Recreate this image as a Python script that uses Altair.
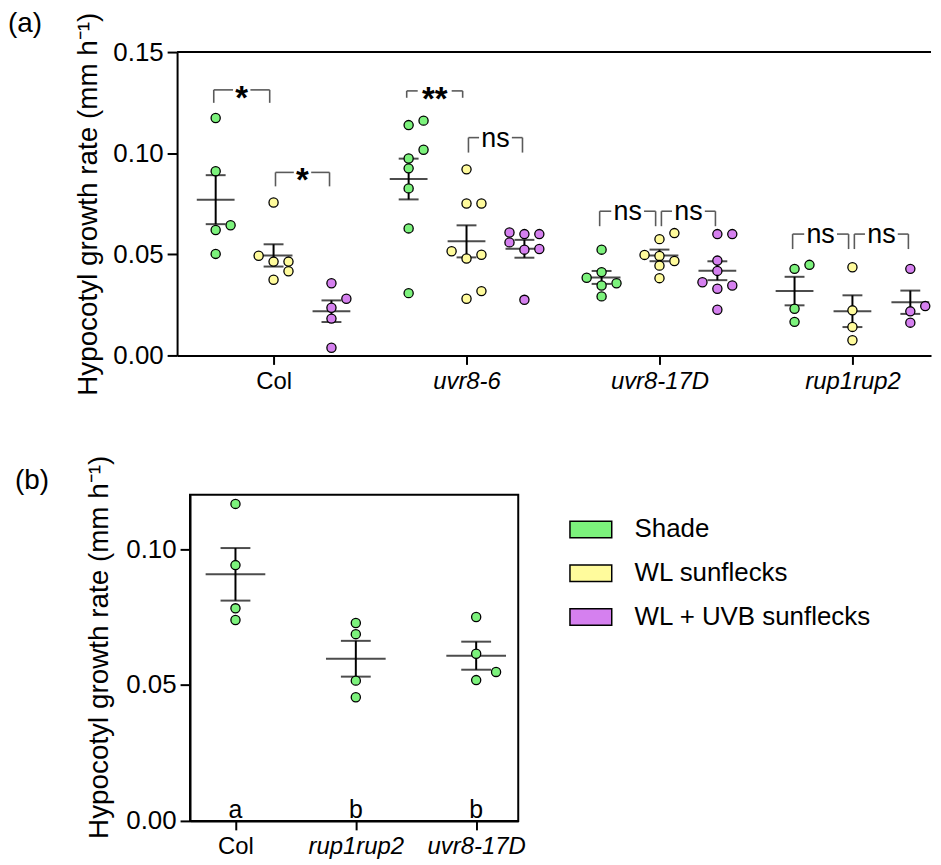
import altair as alt
import pandas as pd
import numpy as np

FONT = "Liberation Sans"

# ---------------- data ----------------
genotypes_a = ["Col", "uvr8-6", "uvr8-17D", "rup1rup2"]
treatments = ["Shade", "WL sunflecks", "WL + UVB sunflecks"]
colors = ["#7CF27C", "#FFFB9C", "#D580EF"]

col_shade = [0.1174, 0.0911, 0.0644, 0.0620, 0.0502]
col_wl = [0.0756, 0.0493, 0.0464, 0.0464, 0.0416, 0.0374]
col_uvb = [0.0357, 0.0280, 0.0236, 0.0182, 0.0038]
uvr86_shade = [0.1161, 0.1139, 0.1017, 0.0974, 0.0925, 0.0826, 0.0628, 0.0308]
uvr86_wl = [0.0920, 0.0751, 0.0751, 0.0515, 0.0498, 0.0479, 0.0318, 0.0280]
uvr86_uvb = [0.0608, 0.0600, 0.0600, 0.0559, 0.0526, 0.0523, 0.0275]
uvr817d_shade = [0.0523, 0.0412, 0.0384, 0.0357, 0.0346, 0.0292]
uvr817d_wl = [0.0605, 0.0575, 0.0497, 0.0492, 0.0467, 0.0444, 0.0382]
uvr817d_uvb = [0.0600, 0.0600, 0.0469, 0.0418, 0.0362, 0.0346, 0.0330, 0.0226]
rup_shade = [0.0448, 0.0428, 0.0231, 0.0166]
rup_wl = [0.0436, 0.0223, 0.0141, 0.0075]
rup_uvb = [0.0428, 0.0244, 0.0218, 0.0162]

groups_a = [
    [col_shade, col_wl, col_uvb],
    [uvr86_shade, uvr86_wl, uvr86_uvb],
    [uvr817d_shade, uvr817d_wl, uvr817d_uvb],
    [rup_shade, rup_wl, rup_uvb],
]

genotypes_b = ["Col", "rup1rup2", "uvr8-17D"]
b_col = [0.1166, 0.0941, 0.0782, 0.0739]
b_rup = [0.0728, 0.0687, 0.0516, 0.0455]
b_uvr = [0.0750, 0.0615, 0.0548, 0.0518]
groups_b = [b_col, b_rup, b_uvr]
letters_b = ["a", "b", "b"]

sig_genotype = [0, 0, 1, 1, 2, 2, 3, 3]
sig_pair = [0, 1, 0, 1, 0, 1, 0, 1]
sig_label = ["*", "*", "**", "ns", "ns", "ns", "ns", "ns"]
sig_top = [0.1313, 0.0905, 0.1308, 0.1077, 0.0713, 0.0713, 0.0600, 0.0600]
sig_drop = [0.1249, 0.0836, 0.1274, 0.1003, 0.0639, 0.0639, 0.0526, 0.0526]

# ---------------- layout constants ----------------
A_W, A_H = 758, 305
A_STEP = 194.0            # px per genotype
A_YMAX = 0.15
B_W, B_H = 330, 328
B_STEP = 121.0
B_YMAX = 0.12
TITLE = "Hypocotyl growth rate (mm h\u207b\u00b9)"


def swarm(values, px_per_unit, step_px, thresh_px):
    vals = np.asarray(values, dtype=float)
    order = np.argsort(vals)
    placed = []
    offs = np.zeros(len(vals))
    cands = [0, 1, -1, 2, -2, 3, -3]
    for i in order:
        y = vals[i] * px_per_unit
        for c in cands:
            x = c * step_px
            if all((x - px) ** 2 + (y - py) ** 2 >= thresh_px ** 2 for py, px in placed):
                offs[i] = x
                placed.append((y, x))
                break
    return offs


rows = []
for gi, trio in enumerate(groups_a):
    for ti, vals in enumerate(trio):
        offs = swarm(vals, A_H / A_YMAX, 15, 9.5)
        xc = gi + (ti - 1) * 0.30
        for v, o in zip(vals, offs):
            rows.append({"gen": genotypes_a[gi], "trt": treatments[ti],
                         "value": v, "x": xc + o / A_STEP, "xc": xc})
df_a = pd.DataFrame(rows)

rows = []
for gi, vals in enumerate(groups_b):
    offs = swarm(vals, B_H / B_YMAX, 20, 9.5)
    for v, o in zip(vals, offs):
        rows.append({"gen": genotypes_b[gi], "trt": "Shade", "value": v,
                     "x": gi + o / B_STEP, "xc": float(gi)})
df_b = pd.DataFrame(rows)

# brackets
gap = {"*": 0.045, "**": 0.088, "ns": 0.085}
seg_rows, lab_rows = [], []
for g, p, lab, top, drop in zip(sig_genotype, sig_pair, sig_label, sig_top, sig_drop):
    x1, x2 = (g - 0.31, g - 0.02) if p == 0 else (g + 0.01, g + 0.29)
    cx = (x1 + x2) / 2
    h = gap[lab]
    seg_rows += [
        {"x": x1, "x2": x1, "y": drop, "y2": top},
        {"x": x2, "x2": x2, "y": drop, "y2": top},
        {"x": x1, "x2": cx - h, "y": top, "y2": top},
        {"x": cx + h, "x2": x2, "y": top, "y2": top},
    ]
    lab_rows.append({"x": cx, "y": top, "label": lab, "star": lab != "ns"})
df_seg = pd.DataFrame(seg_rows)
df_lab = pd.DataFrame(lab_rows)

italic_cond = {"condition": {"test": "datum.value == 0", "value": "normal"}, "value": "italic"}


def x_axis(expr, values):
    return alt.Axis(values=values, labelExpr=expr, title=None,
                    labelFontSize=24, labelFont=FONT, labelColor="black",
                    labelFontStyle=italic_cond, tickSize=9, tickWidth=2,
                    tickColor="black", domainColor="black", domainWidth=2,
                    grid=False, labelPadding=5)


def y_axis(values, pad, **kw):
    return alt.Axis(values=values, format=".2f", title=TITLE,
                    labelFontSize=26, labelFont=FONT, labelColor="black",
                    titleFontSize=28, titleFont=FONT, titleColor="black",
                    titleFontWeight="normal", tickSize=10, tickWidth=2,
                    tickColor="black", domainColor="black", domainWidth=2,
                    grid=False, labelPadding=4, titlePadding=pad, **kw)


# ---------------- panel a ----------------
xa_scale = alt.Scale(domain=[-0.5, -0.5 + A_W / A_STEP], nice=False, zero=False)
ya_scale = alt.Scale(domain=[0, A_YMAX], nice=False)
xa_axis = x_axis("['Col','uvr8-6','uvr8-17D','rup1rup2'][round(datum.value)]", [0, 1, 2, 3])
ya_axis = y_axis([0, 0.05, 0.10, 0.15], 10)


def XA(field):
    return alt.X(field, type="quantitative", scale=xa_scale, axis=xa_axis)


def YA(field):
    return alt.Y(field, type="quantitative", scale=ya_scale, axis=ya_axis)


fill_enc = alt.Fill(
    "trt:N",
    scale=alt.Scale(domain=treatments, range=colors),
    legend=alt.Legend(
        title=None, orient="none", legendX=394, legendY=458,
        symbolType="M-1,-0.4H1V0.4H-1Z", symbolSize=1764,
        symbolStrokeColor="black", symbolStrokeWidth=1.5, symbolOpacity=1,
        labelFontSize=26, labelFont=FONT, labelColor="black",
        labelOffset=22, rowPadding=9, labelLimit=400,
    ),
)

base_a = alt.Chart(df_a)
pts_a = base_a.mark_circle(size=85, stroke="black", strokeWidth=1.3, opacity=1).encode(
    x=XA("x"), y=YA("value"), fill=fill_enc)

stats_a = base_a.transform_aggregate(
    mean="mean(value)", sem="stderr(value)", groupby=["gen", "trt", "xc"]
).transform_calculate(lo="datum.mean - datum.sem", hi="datum.mean + datum.sem")

mean_a = stats_a.mark_tick(orient="horizontal", size=38, thickness=2, color="black").encode(
    x=XA("xc"), y=YA("mean"))
err_a = stats_a.mark_rule(strokeWidth=2, color="black").encode(
    x=XA("xc"), y=YA("lo"), y2="hi:Q")
caps_a = stats_a.transform_fold(["lo", "hi"], as_=["k", "v"]).mark_tick(
    orient="horizontal", size=20, thickness=2, color="black").encode(x=XA("xc"), y=YA("v"))

seg_a = alt.Chart(df_seg).mark_rule(color="#5a5a5a", strokeWidth=1.6).encode(
    x=XA("x"), x2="x2:Q", y=YA("y"), y2="y2:Q")
star_a = alt.Chart(df_lab).transform_filter("datum.star").mark_text(
    font=FONT, fontSize=33, fontWeight="bold", baseline="alphabetic", dy=19, color="black"
).encode(x=XA("x"), y=YA("y"), text="label:N")
ns_a = alt.Chart(df_lab).transform_filter("!datum.star").mark_text(
    font=FONT, fontSize=27, baseline="alphabetic", dy=9, color="black"
).encode(x=XA("x"), y=YA("y"), text="label:N")

top_a = alt.Chart(pd.DataFrame({"v": [A_YMAX]})).mark_rule(color="black", strokeWidth=2).encode(
    y=YA("v"))
lab_a = alt.Chart(pd.DataFrame({"t": ["(a)"]})).mark_text(
    font=FONT, fontSize=28, align="left", baseline="top", color="black"
).encode(text="t:N", x=alt.value(-170), y=alt.value(-42))

panel_a = alt.layer(top_a, seg_a, err_a, caps_a, mean_a, pts_a, star_a, ns_a, lab_a).properties(
    width=A_W, height=A_H, view=alt.ViewBackground(stroke=None))

# ---------------- panel b ----------------
xb_min = -45.7 / B_STEP
xb_scale = alt.Scale(domain=[xb_min, xb_min + B_W / B_STEP], nice=False, zero=False)
yb_scale = alt.Scale(domain=[0, B_YMAX], nice=False)
xb_axis = x_axis("['Col','rup1rup2','uvr8-17D'][round(datum.value)]", [0, 1, 2])
yb_axis = y_axis([0, 0.05, 0.10], 12, titleY=153)


def XB(field):
    return alt.X(field, type="quantitative", scale=xb_scale, axis=xb_axis)


def YB(field):
    return alt.Y(field, type="quantitative", scale=yb_scale, axis=yb_axis)


base_b = alt.Chart(df_b)
pts_b = base_b.mark_circle(size=85, stroke="black", strokeWidth=1.3, opacity=1).encode(
    x=XB("x"), y=YB("value"), fill=fill_enc)
stats_b = base_b.transform_aggregate(
    mean="mean(value)", sem="stderr(value)", groupby=["gen", "xc"]
).transform_calculate(lo="datum.mean - datum.sem", hi="datum.mean + datum.sem")
mean_b = stats_b.mark_tick(orient="horizontal", size=60, thickness=2, color="black").encode(
    x=XB("xc"), y=YB("mean"))
err_b = stats_b.mark_rule(strokeWidth=2, color="black").encode(
    x=XB("xc"), y=YB("lo"), y2="hi:Q")
caps_b = stats_b.transform_fold(["lo", "hi"], as_=["k", "v"]).mark_tick(
    orient="horizontal", size=30, thickness=2, color="black").encode(x=XB("xc"), y=YB("v"))

df_let = pd.DataFrame({"x": [0.0, 1.0, 2.0], "y": [0.0] * 3, "t": letters_b})
let_b = alt.Chart(df_let).mark_text(
    font=FONT, fontSize=25, baseline="alphabetic", dy=-3, color="black"
).encode(x=XB("x"), y=YB("y"), text="t:N")
lab_b = alt.Chart(pd.DataFrame({"t": ["(b)"]})).mark_text(
    font=FONT, fontSize=28, align="left", baseline="top", color="black"
).encode(text="t:N", x=alt.value(-176), y=alt.value(-28))

panel_b = alt.layer(err_b, caps_b, mean_b, pts_b, let_b, lab_b).properties(
    width=B_W, height=B_H,
    view=alt.ViewBackground(stroke="black", strokeWidth=2))

spacer = alt.Chart(pd.DataFrame({"a": [0]})).mark_point(opacity=0).encode(
    x=alt.value(0), y=alt.value(0)).properties(
    width=1, height=B_H, view=alt.ViewBackground(stroke=None))

row_b = alt.hconcat(spacer, panel_b, spacing=12, bounds="flush")

chart = alt.vconcat(panel_a, row_b, spacing=140, bounds="flush").configure(
    font=FONT, padding=0
).configure_view(strokeWidth=2)

chart.save("out.html", embed_options={"renderer": "svg", "actions": False})
